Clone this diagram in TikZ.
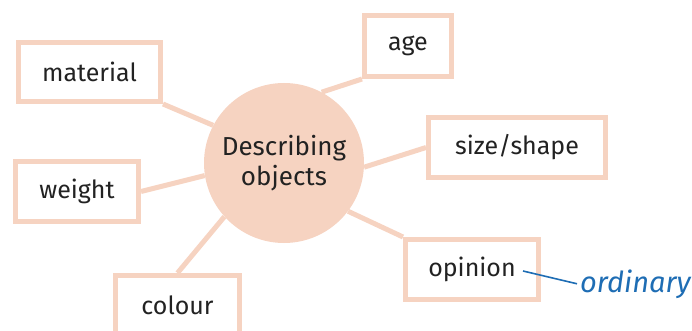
\documentclass[tikz,border=0pt]{standalone}
\usepackage{fontspec}
\setmainfont{Fira Sans}
\definecolor{peach}{HTML}{F6D3C1}
\definecolor{inkblue}{HTML}{1E6DB4}
\definecolor{darktxt}{HTML}{222222}
\begin{document}
\begin{tikzpicture}[x=1pt,y=-1pt,myv/.style={circle, fill=peach, inner sep=0pt, minimum size=160pt, align=center, text=darktxt, font=\fontsize{26}{30}\selectfont},myb/.style={rectangle, draw=peach, fill=white, line width=5pt, inner sep=0pt, text=darktxt, font=\fontsize{25}{29}\selectfont},myl/.style={draw=peach, line width=5pt}]
  \useasboundingbox (0,0) rectangle (692,331);

  \node[myv] (desc) at (284,163) {Describing\\objects};

  \node[myb, minimum width=142pt, minimum height=59pt] (material) at (89.5,72) {material};
  \node[myb, minimum width=123pt, minimum height=60pt] (weight) at (77,191.5) {weight};
  \node[myb, minimum width=124pt, minimum height=60pt] (colour) at (177.5,305.5) {colour};
  \node[myb, minimum width=87pt, minimum height=61pt] (age) at (408,46) {age};
  \node[myb, minimum width=177pt, minimum height=60pt] (size) at (517,147.5) {size/shape};
  \node[myb, minimum width=133pt, minimum height=60pt] (opinion) at (472,269.5) {opinion};

    \draw[myl] (material.south east) -- (desc.152);
    \draw[myl] (weight.east) -- (desc.189);
    \draw[myl] (colour.north) -- (desc.222);
    \draw[myl] (age.south west) -- (desc.62);
    \draw[myl] (size.west) -- (desc.-3);
    \draw[myl] (opinion.north west) -- (desc.-37);

  \node[anchor=base west, inner sep=0pt, text=inkblue, font=\itshape\fontsize{29}{32}\selectfont] (ordinary) at (580,292) {ordinary};
  \coordinate (tick) at (523,271);
    \draw[inkblue, line width=1.6pt] (tick) -- ([xshift=-3pt]ordinary.west);

\end{tikzpicture}
\end{document}
